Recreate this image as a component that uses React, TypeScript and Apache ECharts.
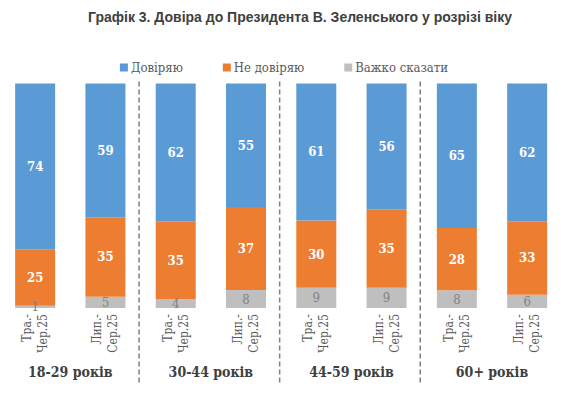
import React, { useEffect, useRef } from "react";
import * as echarts from "echarts";

const titleText = "Графік 3. Довіра до Президента В. Зеленського у розрізі віку";
const seriesNames = ["Довіряю", "Не довіряю", "Важко сказати"];
const categories = [
  "Тра.-\nЧер.25", "Лип.-\nСер.25",
  "Тра.-\nЧер.25", "Лип.-\nСер.25",
  "Тра.-\nЧер.25", "Лип.-\nСер.25",
  "Тра.-\nЧер.25", "Лип.-\nСер.25",
];
const groups = ["18-29 років", "30-44 років", "44-59 років", "60+ років"];
const trust = [74, 59, 62, 55, 61, 56, 65, 62];
const distrust = [25, 35, 35, 37, 30, 35, 28, 33];
const hard = [1, 5, 4, 8, 9, 9, 8, 6];

const colors = ["#5B9BD5", "#ED7D31", "#BFBFBF"];
const serif = "DejaVu Serif Condensed, DejaVu Serif";
const sans = "Liberation Sans";

export default function App() {
  const ref = useRef<HTMLDivElement>(null);
  useEffect(() => {
    if (!ref.current) return;
    const chart = echarts.init(ref.current, undefined, { renderer: "svg" });
    const totals = trust.map((t, i) => t + distrust[i] + hard[i]);
    const pct = (arr: number[]) => arr.map((v, i) => (v / totals[i]) * 100);

    const mk = (name: string, raw: number[], color: string, labelColor: string, bold: boolean) => ({
      name,
      type: "bar",
      stack: "all",
      barWidth: 40,
      data: pct(raw),
      itemStyle: { color },
      label: {
        show: true,
        position: "inside",
        color: labelColor,
        fontFamily: serif,
        fontSize: 13,
        fontWeight: bold ? "bold" : "normal",
        formatter: (p: any) => String(raw[p.dataIndex]),
      },
    });

    chart.setOption({
      animation: false,
      textStyle: { fontFamily: serif },
      title: {
        text: titleText,
        left: 83,
        top: 5,
        textStyle: { fontFamily: sans, fontSize: 14, fontWeight: "bold", color: "#404040" },
      },
      legend: {
        data: seriesNames,
        top: 56,
        left: "center",
        icon: "rect",
        itemWidth: 8,
        itemHeight: 8,
        itemGap: 40,
        textStyle: { fontFamily: serif, fontSize: 13, color: "#595959", padding: [0, 0, 0, -2] },
      },
      grid: { left: -3.4, right: 5.7, top: 83.5, bottom: 93, containLabel: false },
      xAxis: [
        {
          type: "category",
          data: categories,
          axisLine: { show: false },
          axisTick: { show: false },
          axisLabel: {
            rotate: 90,
            interval: 0,
            margin: 6,
            fontFamily: serif,
            fontSize: 12,
            lineHeight: 16,
            color: "#595959",
          },
        },
        {
          type: "category",
          data: groups,
          position: "bottom",
          offset: 50,
          axisLine: { show: false },
          axisTick: { show: false },
          axisLabel: {
            interval: 0,
            margin: 7,
            fontFamily: serif,
            fontSize: 14,
            fontWeight: "bold",
            color: "#404040",
          },
        },
      ],
      yAxis: { type: "value", min: 0, max: 100, show: false, splitLine: { show: false } },
      series: [
        mk(seriesNames[2], hard, colors[2], "#7F7F7F", false),
        mk(seriesNames[1], distrust, colors[1], "#FFFFFF", true),
        mk(seriesNames[0], trust, colors[0], "#FFFFFF", true),
      ],
    });

    const topY = (chart.convertToPixel({ yAxisIndex: 0 }, 100) as number) - 2;
    const botY = 385;
    const lines: any[] = [];
    for (let g = 1; g < groups.length; g++) {
      const a = chart.convertToPixel({ xAxisIndex: 0 }, 2 * g - 1) as number;
      const b = chart.convertToPixel({ xAxisIndex: 0 }, 2 * g) as number;
      const x = (a + b) / 2 - 1.5;
      lines.push({
        type: "line",
        shape: { x1: x, y1: topY, x2: x, y2: botY },
        style: { stroke: "#808080", lineWidth: 1.5, lineDash: [5, 3] },
        silent: true,
      });
    }
    chart.setOption({ graphic: lines });

    return () => chart.dispose();
  }, []);
  return (
    <div
      ref={ref}
      style={{ position: "fixed", left: 0, top: 0, width: 568, height: 401, background: "#fff" }}
    />
  );
}
